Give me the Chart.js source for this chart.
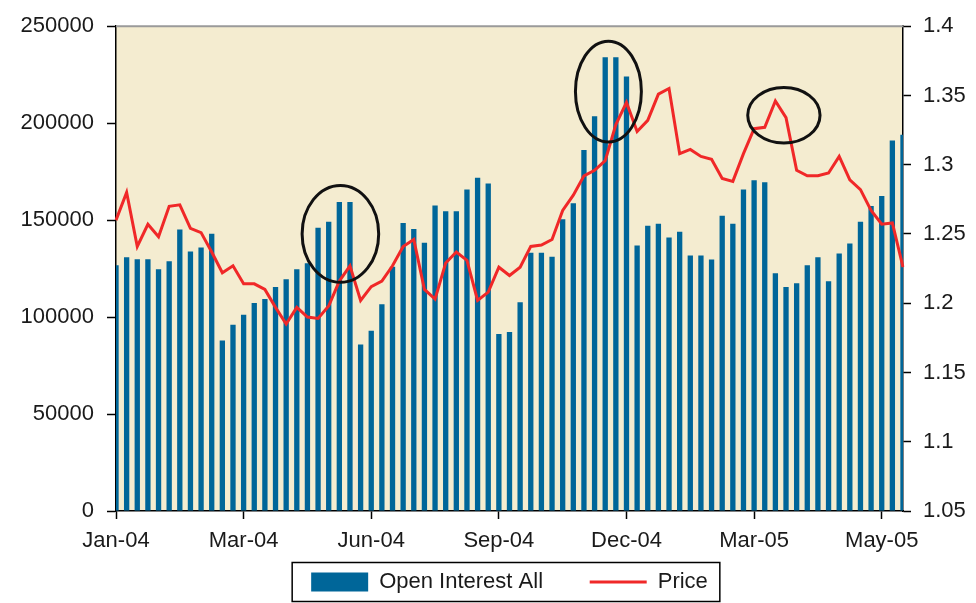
<!DOCTYPE html>
<html>
<head>
<meta charset="utf-8">
<script src="https://cdn.jsdelivr.net/npm/chart.js@4.4.1/dist/chart.umd.min.js"></script>
<style>
    html, body { margin: 0; padding: 0; background: #fff; }
    canvas { display: block; }
</style>
</head>
<body>
<canvas id="grafico" width="976" height="603"></canvas>
<script>
const semanas = [
    '2004-01-06', '2004-01-13', '2004-01-20', '2004-01-27', '2004-02-03', '2004-02-10', '2004-02-17', '2004-02-24',
    '2004-03-02', '2004-03-09', '2004-03-16', '2004-03-23', '2004-03-30', '2004-04-06', '2004-04-13', '2004-04-20',
    '2004-04-27', '2004-05-04', '2004-05-11', '2004-05-18', '2004-05-25', '2004-06-01', '2004-06-08', '2004-06-15',
    '2004-06-22', '2004-06-29', '2004-07-06', '2004-07-13', '2004-07-20', '2004-07-27', '2004-08-03', '2004-08-10',
    '2004-08-17', '2004-08-24', '2004-08-31', '2004-09-07', '2004-09-14', '2004-09-21', '2004-09-28', '2004-10-05',
    '2004-10-12', '2004-10-19', '2004-10-26', '2004-11-02', '2004-11-09', '2004-11-16', '2004-11-23', '2004-11-30',
    '2004-12-07', '2004-12-14', '2004-12-21', '2004-12-28', '2005-01-04', '2005-01-11', '2005-01-18', '2005-01-25',
    '2005-02-01', '2005-02-08', '2005-02-15', '2005-02-22', '2005-03-01', '2005-03-08', '2005-03-15', '2005-03-22',
    '2005-03-29', '2005-04-05', '2005-04-12', '2005-04-19', '2005-04-26', '2005-05-03', '2005-05-10', '2005-05-17',
    '2005-05-24', '2005-05-31', '2005-06-07'
];

const openInterest = [
    126700, 130800, 129800, 129800, 124700, 128800, 145100, 133800, 135900, 143000,
    87900, 96100, 101200, 107300, 109300, 115500, 119500, 124700, 127700, 146100,
    149100, 159300, 159300, 85900, 93000, 106600, 126000, 148500, 145400, 138300,
    157600, 154600, 154600, 165800, 171900, 168900, 91300, 92300, 107700, 133200,
    133200, 131100, 150500, 158700, 186200, 203600, 234000, 234000, 224000, 136900,
    147100, 148100, 141000, 144000, 131800, 131800, 129700, 152200, 148100, 165800,
    170600, 169500, 122600, 115500, 117500, 126700, 130800, 118500, 132800, 137900,
    149100, 157300, 162400, 191000, 194000
];

const price = [
    1.260, 1.280, 1.241, 1.257, 1.248, 1.270, 1.271, 1.254, 1.251, 1.237,
    1.222, 1.227, 1.214, 1.214, 1.210, 1.197, 1.185, 1.197, 1.190, 1.189,
    1.198, 1.216, 1.227, 1.202, 1.212, 1.216, 1.227, 1.241, 1.246, 1.210,
    1.203, 1.229, 1.237, 1.231, 1.202, 1.208, 1.226, 1.220, 1.226, 1.241,
    1.242, 1.246, 1.267, 1.278, 1.292, 1.296, 1.303, 1.329, 1.345, 1.324,
    1.332, 1.351, 1.355, 1.308, 1.311, 1.306, 1.304, 1.290, 1.288, 1.308,
    1.326, 1.327, 1.346, 1.334, 1.296, 1.292, 1.292, 1.294, 1.306, 1.289,
    1.282, 1.267, 1.257, 1.258, 1.226
];

const rotulosX = ['Jan-04', 'Mar-04', 'Jun-04', 'Sep-04', 'Dec-04', 'Mar-05', 'May-05'];
const semanasPorRotulo = 12;

// circulos desenhados a mao no original (centro em semana / open interest)
const circulos = [
    { semana: 21.1, oi: 142900, raioSemanas: 3.6, raioOi: 25000 },
    { semana: 46.3, oi: 216300, raioSemanas: 3.1, raioOi: 26000 },
    { semana: 62.8, oi: 204100, raioSemanas: 3.4, raioOi: 14300 }
];

Chart.defaults.font.family = '"Liberation Sans", Arial, sans-serif';
Chart.defaults.font.size = 22;
Chart.defaults.color = '#1a1a1a';

const fundo = {
    id: 'fundo',
    beforeDraw(chart) {
        const { ctx, chartArea: a } = chart;
        ctx.save();
        ctx.fillStyle = '#ffffff';
        ctx.fillRect(0, 0, chart.width, chart.height);
        ctx.fillStyle = '#F4ECD0';
        ctx.fillRect(a.left, a.top, a.right - a.left, a.bottom - a.top);
        ctx.restore();
    },
    afterDraw(chart) {
        const { ctx, chartArea: a } = chart;
        ctx.save();
        ctx.strokeStyle = '#9a9a9a';
        ctx.lineWidth = 2;
        ctx.beginPath();
        ctx.moveTo(a.left, a.top);
        ctx.lineTo(a.right, a.top);
        ctx.stroke();
        ctx.restore();
    }
};

const elipses = {
    id: 'elipses',
    afterDatasetsDraw(chart) {
        const { ctx } = chart;
        const x = chart.scales.x;
        const y = chart.scales.y;
        ctx.save();
        ctx.strokeStyle = '#111';
        ctx.lineWidth = 3;
        for (let c of circulos) {
            const cx = x.getPixelForValue(c.semana);
            const cy = y.getPixelForValue(c.oi);
            const rx = Math.abs(x.getPixelForValue(c.semana + c.raioSemanas) - cx);
            const ry = Math.abs(y.getPixelForValue(c.oi + c.raioOi) - cy);
            ctx.beginPath();
            ctx.ellipse(cx, cy, rx, ry, 0, 0, Math.PI * 2);
            ctx.stroke();
        }
        ctx.restore();
    }
};

const molduraLegenda = {
    id: 'molduraLegenda',
    afterDraw(chart) {
        const caixas = chart.legend.legendHitBoxes;
        if (!caixas || !caixas.length) return;
        const esq = Math.min(...caixas.map(b => b.left)) - 19;
        const dir = Math.max(...caixas.map(b => b.left + b.width)) + 12;
        const topo = Math.min(...caixas.map(b => b.top)) - 8.5;
        const base = Math.max(...caixas.map(b => b.top + b.height)) + 8.5;
        const ctx = chart.ctx;
        ctx.save();
        ctx.strokeStyle = '#000';
        ctx.lineWidth = 1.5;
        ctx.strokeRect(esq, topo, dir - esq, base - topo);
        ctx.restore();
    }
};

new Chart('grafico', {
    data: {
        labels: semanas,
        datasets: [{
            type: 'bar',
            label: 'Open Interest All',
            data: openInterest,
            backgroundColor: '#006699',
            borderWidth: 0,
            barPercentage: 0.5,
            categoryPercentage: 1,
            yAxisID: 'y',
            clip: 0,
            order: 2
        }, {
            type: 'line',
            label: 'Price',
            data: price,
            borderColor: '#f02828',
            backgroundColor: '#f02828',
            borderWidth: 3,
            pointRadius: 0,
            tension: 0,
            fill: false,
            yAxisID: 'y1',
            order: 1
        }]
    },
    options: {
        responsive: false,
        animation: false,
        layout: { padding: { top: 21, left: 0, right: 0, bottom: 0 } },
        scales: {
            x: {
                type: 'category',
                offset: false,
                afterBuildTicks: scale => {
                    scale.ticks = scale.ticks.filter(t => t.value % semanasPorRotulo === 0);
                },
                afterFit: scale => { scale.height = 50; },
                ticks: {
                    autoSkip: false,
                    maxRotation: 0,
                    padding: 9,
                    callback: value => rotulosX[value / semanasPorRotulo]
                },
                grid: { drawOnChartArea: false, offset: false, tickLength: 8, tickColor: '#000', tickWidth: 1.5 },
                border: { color: '#000', width: 1.5 }
            },
            y: {
                position: 'left',
                min: 0,
                max: 250000,
                afterFit: scale => { scale.width = 116; },
                ticks: { stepSize: 50000, padding: 13, callback: v => String(v) },
                grid: { drawOnChartArea: false, tickLength: 9, tickColor: '#000', tickWidth: 1.5 },
                border: { color: '#000', width: 1.5 }
            },
            y1: {
                position: 'right',
                min: 1.05,
                max: 1.4,
                afterFit: scale => { scale.width = 73; },
                ticks: { stepSize: 0.05, padding: 12, callback: v => String(Math.round(v * 100) / 100) },
                grid: { drawOnChartArea: false, tickLength: 8, tickColor: '#000', tickWidth: 1.5 },
                border: { color: '#000', width: 1.5 }
            }
        },
        plugins: {
            tooltip: { enabled: false },
            legend: {
                position: 'bottom',
                fullSize: false,
                labels: {
                    usePointStyle: true,
                    pointStyleWidth: 57,
                    boxHeight: 19,
                    padding: 10,
                    font: { size: 22 },
                    generateLabels: chart => {
                        let itens = Chart.defaults.plugins.legend.labels.generateLabels(chart);
                        itens.sort((a, b) => a.datasetIndex - b.datasetIndex);
                        return itens.map(item => {
                            if (item.datasetIndex === 0) {
                                item.pointStyle = 'rect';
                                // espaco extra entre os dois itens, como no original
                                item.text = item.text + '\u00a0\u00a0\u00a0\u00a0\u00a0\u00a0';
                            } else {
                                item.pointStyle = 'line';
                                item.lineWidth = 3;
                            }
                            return item;
                        });
                    }
                }
            }
        }
    },
    plugins: [fundo, elipses, molduraLegenda]
});
</script>
</body>
</html>
